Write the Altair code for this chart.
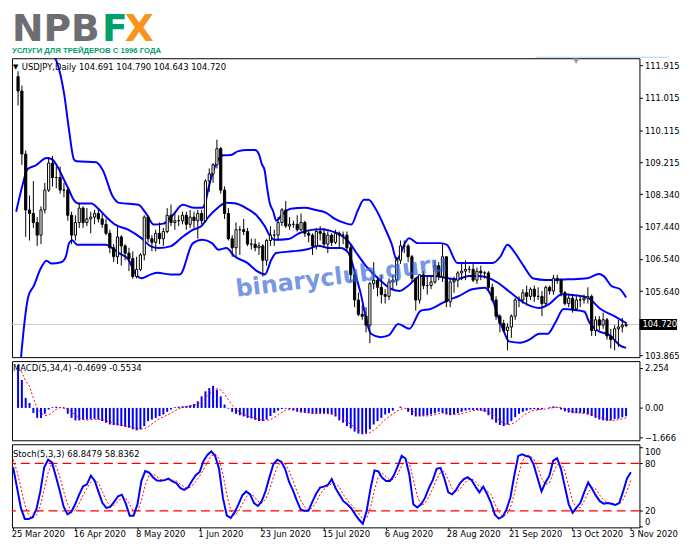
import altair as alt
import pandas as pd

# ---------------- data ----------------
opens = [111.60,111.20,109.45,107.90,107.80,107.55,107.20,107.90,108.45,109.20,
108.80,108.80,108.45,108.45,107.75,107.20,107.55,107.95,107.55,107.65,
107.70,107.80,107.65,107.50,107.25,106.85,106.60,107.15,106.90,106.70,
106.55,106.05,106.25,106.65,107.70,107.10,107.00,107.25,107.10,107.30,
107.75,107.55,107.60,107.60,107.75,107.50,107.70,107.60,107.80,107.60,
108.70,108.90,109.15,109.60,108.45,107.80,107.10,106.85,107.35,107.35,
107.30,106.95,106.95,106.85,106.90,106.50,107.05,107.20,107.20,107.55,
107.90,107.45,107.50,107.50,107.35,107.55,107.25,107.20,106.90,107.30,
107.25,106.95,107.20,107.00,107.25,107.20,107.20,106.85,106.10,105.40,
105.00,104.95,104.70,105.85,105.95,105.75,105.55,105.50,105.90,105.95,
106.50,106.90,106.90,106.60,106.00,105.40,106.10,105.80,105.80,105.90,
106.35,106.05,106.60,105.35,105.90,105.95,106.15,106.20,106.25,106.25,
105.95,106.20,106.15,106.15,105.75,105.40,104.95,104.75,104.55,104.65,
104.95,105.40,105.40,105.60,105.50,105.70,105.50,105.50,105.30,105.75,
105.65,106.00,105.95,105.60,105.30,105.45,105.15,105.40,105.40,105.45,
105.50,104.55,104.85,104.70,104.85,104.40,104.30,104.60,104.65,104.691]
highs = [111.75,111.35,109.55,108.30,108.70,107.70,108.00,108.65,109.35,109.40,
109.10,109.10,108.65,108.50,107.85,107.75,108.10,108.00,107.95,107.85,
107.90,107.95,107.80,107.65,107.35,106.95,107.45,107.20,106.95,106.85,
106.75,106.60,106.70,107.75,107.75,107.20,107.35,107.55,107.40,107.95,
108.05,107.85,107.75,107.85,107.85,107.90,107.85,107.90,107.90,108.75,
109.05,109.20,109.85,109.65,108.55,107.95,107.20,107.55,107.45,107.65,
107.40,107.10,107.10,107.00,106.95,107.10,107.45,107.35,107.70,107.95,
108.15,107.70,107.60,107.75,107.80,107.60,107.35,107.25,107.40,107.45,
107.40,107.30,107.25,107.35,107.30,107.30,107.30,106.95,106.25,105.60,
105.25,105.20,105.90,106.45,106.05,106.10,105.70,106.00,106.10,106.60,
107.05,107.05,106.95,106.65,106.00,106.10,106.20,106.05,106.05,106.50,
106.45,106.95,106.60,106.00,106.05,106.20,106.40,106.50,106.35,106.40,
106.30,106.35,106.20,106.20,105.85,105.50,105.00,104.85,104.75,105.00,
105.45,105.50,105.70,105.80,105.75,105.80,105.75,105.65,105.80,105.80,
106.10,106.10,106.00,105.65,105.55,105.55,105.50,105.50,105.55,105.75,
105.55,104.95,104.95,105.05,104.90,104.60,104.70,104.85,104.90,104.790]
lows = [110.80,109.15,107.15,107.05,107.40,106.90,106.95,107.80,108.40,108.55,
108.50,108.35,108.25,107.60,106.95,107.05,107.40,107.40,107.45,107.25,
107.50,107.55,107.40,107.20,106.70,106.45,106.40,106.35,106.50,106.20,
105.99,106.00,106.20,106.50,107.00,106.75,106.75,106.95,106.90,107.25,
107.45,107.35,107.45,107.50,107.35,107.40,107.40,107.10,107.50,107.55,
108.40,108.65,109.05,108.35,107.65,107.05,106.60,106.60,106.65,107.20,
106.90,106.80,106.75,106.65,106.05,106.35,106.90,106.90,107.05,107.45,
107.40,107.35,107.40,107.30,107.30,107.15,107.00,106.65,106.80,107.05,
106.85,106.70,106.90,106.95,106.85,106.95,106.75,105.90,105.20,104.95,
104.85,104.50,104.20,105.70,105.50,105.30,105.30,105.40,105.70,105.80,
106.40,106.70,106.45,105.90,105.10,105.30,105.70,105.55,105.70,105.85,
105.95,105.90,105.20,105.20,105.60,105.75,105.95,105.95,106.15,105.90,
105.85,105.95,106.00,105.65,105.35,104.85,104.50,104.50,104.00,104.35,
104.85,105.20,105.30,105.25,105.40,105.35,105.40,104.95,105.25,105.55,
105.55,105.85,105.50,105.25,105.20,105.05,105.10,105.20,105.30,105.30,
104.40,104.40,104.55,104.60,104.30,104.05,104.00,104.10,104.50,104.643]
closes = [111.20,109.45,107.90,107.80,107.55,107.20,107.90,108.45,109.20,108.80,
108.80,108.45,108.45,107.75,107.20,107.55,107.95,107.55,107.65,107.70,
107.80,107.65,107.50,107.25,106.85,106.60,107.15,106.90,106.70,106.55,
106.05,106.25,106.65,107.70,107.10,107.00,107.25,107.10,107.30,107.75,
107.55,107.60,107.60,107.75,107.50,107.70,107.60,107.80,107.60,108.70,
108.90,109.15,109.60,108.45,107.80,107.10,106.85,107.35,107.35,107.30,
106.95,106.95,106.85,106.90,106.50,107.05,107.20,107.20,107.55,107.90,
107.45,107.50,107.50,107.35,107.55,107.25,107.20,106.90,107.30,107.25,
106.95,107.20,107.00,107.25,107.20,107.20,106.85,106.10,105.40,105.00,
104.95,104.70,105.85,105.95,105.75,105.55,105.50,105.90,105.95,106.50,
106.90,106.90,106.60,106.00,105.40,106.10,105.80,105.80,105.90,106.35,
106.05,106.60,105.35,105.90,105.95,106.15,106.20,106.25,106.25,105.95,
106.20,106.15,106.15,105.75,105.40,104.95,104.75,104.55,104.65,104.95,
105.40,105.40,105.60,105.50,105.70,105.50,105.50,105.30,105.75,105.65,
106.00,105.95,105.60,105.30,105.45,105.15,105.40,105.40,105.45,105.50,
104.55,104.85,104.70,104.85,104.40,104.30,104.60,104.65,104.70,104.720]

# Bollinger band knots: bar position, price
ub_i = [7.5,8.82,10.08,12.09,13.35,14.61,15.37,20.40,22.17,24.69,26.45,31.49,33.50,35.52,38.04,40.55,43.07,46.10,48.11,48.87,49.87,51.13,52.39,53.65,55.67,57.43,59.95,61.96,62.97,63.73,64.48,64.99,65.74,66.75,67.51,69.02,71.28,75.06,77.58,80.60,82.62,85.89,87.15,88.92,90.43,91.69,93.45,95.97,97.73,98.99,100.0,101.0,102.27,104.53,110.33,112.09,114.86,124.18,126.2,127.96,129.97,132.24,134.76,138.04,143.83,148.87,151.89,153.15,155.16,157.43,159.0]
ub_p = [112.8,112.245,112.025,111.091,110.102,109.305,109.250,109.223,109.003,108.289,108.096,108.041,107.794,107.492,107.519,107.767,108.041,107.959,107.959,108.069,108.536,109.003,109.305,109.415,109.423,109.525,109.561,109.561,109.451,109.176,109.003,108.618,108.124,107.849,107.602,107.767,107.931,107.959,107.904,107.821,107.665,107.519,107.492,107.904,108.179,108.179,107.940,107.390,106.943,106.522,106.668,106.943,107.116,106.978,106.978,106.934,106.429,106.429,106.613,106.934,106.704,106.338,105.995,105.953,105.973,106.0,106.118,106.063,105.788,105.698,105.47]
mb_i = [-0.5,1.18,2.44,4.53,7.48,8.74,10.40,12.09,13.35,14.61,15.87,19.22,20.91,23.0,25.52,28.89,32.24,34.76,36.85,39.80,43.15,45.67,47.78,49.87,51.56,54.48,56.60,59.95,62.47,64.56,65.82,67.08,70.78,73.38,76.75,79.27,81.36,84.31,86.40,88.49,91.01,94.38,97.73,99.82,101.94,105.29,109.07,111.59,114.53,117.88,120.40,122.92,125.44,128.79,132.17,136.35,138.87,142.24,145.59,148.94,152.32,155.67,159.0]
mb_p = [107.849,108.591,109.031,109.132,109.341,109.313,109.085,108.720,108.445,108.171,108.077,108.077,107.940,107.712,107.484,107.346,107.116,106.887,106.841,106.887,107.162,107.346,107.437,107.712,107.896,108.096,108.083,107.931,107.739,107.437,107.190,107.071,107.094,107.245,107.346,107.363,107.327,107.209,107.025,106.704,106.338,105.973,105.698,105.651,105.788,106.063,106.063,106.017,105.973,106.063,106.063,106.017,105.879,105.605,105.330,105.176,105.286,105.560,105.533,105.467,105.148,104.964,104.76]
lb_i = [0.2,0.76,1.59,2.70,4.11,5.79,7.48,8.74,11.26,12.52,13.35,14.18,15.44,19.65,23.0,24.69,26.37,28.89,30.55,32.24,34.76,36.45,39.80,42.32,45.67,48.19,50.71,52.39,54.48,56.60,59.95,62.47,64.56,66.25,67.51,71.71,75.89,78.41,81.36,84.31,86.40,88.09,89.75,91.01,92.27,94.79,96.90,99.42,102.34,105.29,107.81,112.01,115.37,118.72,122.09,123.75,125.44,127.13,128.39,131.31,133.83,136.35,138.46,140.55,142.64,145.59,148.11,149.37,151.46,154.84,157.36,159.0]
lb_p = [103.0,103.775,104.690,105.500,105.789,106.247,106.489,106.412,106.448,106.613,106.978,107.058,106.934,106.934,106.934,106.833,106.704,106.522,106.154,106.003,106.110,106.154,106.110,106.110,106.970,107.072,106.978,106.797,106.841,106.613,106.429,106.201,106.110,106.522,106.704,106.750,106.813,106.907,106.841,106.841,106.704,106.154,105.514,104.874,104.462,104.368,104.415,104.736,104.599,105.102,105.148,105.377,105.514,105.698,105.742,105.514,104.964,104.506,104.250,104.215,104.305,104.462,104.462,104.780,105.148,105.121,105.074,104.780,104.552,104.415,104.140,104.07]

macd_hist = [2.41,1.57,0.56,0.28,-0.28,-0.56,-0.56,-0.33,-0.09,0.04,
0.07,0.04,-0.04,-0.33,-0.56,-0.70,-0.70,-0.67,-0.65,-0.63,
-0.61,-0.65,-0.74,-0.83,-0.93,-0.96,-0.98,-1.02,-1.06,-1.11,
-1.20,-1.26,-1.20,-1.02,-0.74,-0.65,-0.56,-0.46,-0.37,-0.22,
-0.09,0.04,0.07,0.09,0.11,0.15,0.22,0.37,0.65,0.93,
1.11,1.24,1.02,0.65,0.19,-0.04,-0.22,-0.33,-0.41,-0.48,
-0.56,-0.59,-0.67,-0.74,-0.74,-0.65,-0.46,-0.28,-0.15,-0.06,
-0.04,-0.07,-0.15,-0.22,-0.26,-0.28,-0.30,-0.33,-0.33,-0.30,
-0.30,-0.33,-0.37,-0.48,-0.70,-0.83,-1.02,-1.15,-1.33,-1.44,
-1.48,-1.44,-1.20,-0.93,-0.74,-0.56,-0.37,-0.28,-0.15,0.00,
0.07,0.00,-0.22,-0.41,-0.48,-0.48,-0.44,-0.41,-0.37,-0.30,
-0.22,-0.28,-0.37,-0.41,-0.37,-0.30,-0.22,-0.15,-0.11,-0.11,
-0.11,-0.15,-0.22,-0.41,-0.65,-0.83,-0.96,-1.02,-0.93,-0.74,
-0.52,-0.33,-0.22,-0.15,-0.09,-0.07,-0.11,-0.07,0.00,0.04,
0.09,0.04,-0.09,-0.19,-0.26,-0.30,-0.30,-0.28,-0.30,-0.37,
-0.46,-0.56,-0.65,-0.70,-0.72,-0.70,-0.62,-0.60,-0.52,-0.4699]
macd_signal = [2.20,2.00,1.50,1.20,0.55,0.00,-0.28,-0.43,-0.39,-0.24,
-0.08,0.02,0.03,-0.07,-0.22,-0.41,-0.57,-0.66,-0.68,-0.66,
-0.64,-0.64,-0.66,-0.71,-0.79,-0.87,-0.93,-0.97,-1.01,-1.04,
-1.10,-1.16,-1.19,-1.17,-1.06,-0.90,-0.74,-0.60,-0.51,-0.40,
-0.29,-0.16,-0.05,0.03,0.08,0.11,0.14,0.21,0.35,0.54,
0.77,0.98,1.08,1.01,0.78,0.46,0.15,-0.10,-0.25,-0.36,
-0.45,-0.51,-0.58,-0.64,-0.69,-0.70,-0.65,-0.53,-0.39,-0.24,
-0.13,-0.08,-0.08,-0.12,-0.18,-0.23,-0.27,-0.29,-0.31,-0.32,
-0.32,-0.32,-0.33,-0.37,-0.47,-0.60,-0.76,-0.93,-1.08,-1.24,
-1.35,-1.42,-1.39,-1.26,-1.08,-0.86,-0.65,-0.49,-0.34,-0.20,
-0.09,-0.02,-0.04,-0.14,-0.28,-0.40,-0.45,-0.45,-0.43,-0.38,
-0.33,-0.29,-0.29,-0.32,-0.36,-0.36,-0.33,-0.26,-0.20,-0.15,
-0.12,-0.12,-0.15,-0.22,-0.36,-0.53,-0.71,-0.87,-0.94,-0.91,
-0.80,-0.63,-0.45,-0.31,-0.20,-0.13,-0.11,-0.09,-0.06,-0.04,
0.02,0.04,0.02,-0.04,-0.13,-0.21,-0.26,-0.29,-0.30,-0.31,
-0.35,-0.42,-0.51,-0.59,-0.66,-0.70,-0.69,-0.66,-0.61,-0.5534]

stoch_main = [75,49.4,23.7,9.8,9.8,11.8,22,44.5,75.1,84.5,
81.2,63.7,45.3,25.3,15.5,18.8,28.6,40.4,51.0,53.5,
64.5,58,43.7,29.8,23.7,24.9,31.4,38.4,40.4,29.0,
13.9,13.9,28.2,57.6,70.2,68.2,62.4,58.4,58,58.8,
60.8,57.1,55.1,49,46.5,49.4,57.6,64.9,69.0,82.9,
90.6,95.1,89.4,73.1,36.3,13.9,11.0,18,28.2,39.6,
44.5,40.8,29.8,26.1,32.2,45.3,62.9,79.2,84.5,82,
73.1,56.7,46.1,33.1,21.6,20,20,31.4,41.6,49.4,
50.6,52.7,60,48.6,40.4,32.2,28.2,23.3,15.9,9,
3.7,20,48.6,71,69.8,61.6,57.6,57.6,64.9,76.3,
89.4,86.1,64.9,28.2,24.1,28.2,36.3,48.6,58.8,73.1,
74.3,60.8,43.3,40.8,46.5,54.7,60,62.4,58.8,50.6,
43.3,50.6,41.2,30.2,15.1,10.2,12.7,22,37.1,64.9,
89.4,91.4,89.4,87.8,78,60.8,44.5,55.9,64.1,83.3,
86.5,73.1,50.6,28.2,17.6,24.1,30.2,43.7,55.9,47.8,
39.2,32.2,29,29.8,29,27.3,29.8,44.5,60.8,68.8479]
stoch_signal = [85,70,49.4,27.6,14.4,10.5,14.5,26.1,47.2,68.0,
80.3,76.5,63.4,44.8,28.7,19.9,21.0,29.3,40.0,48.3,
56.3,58.7,55.4,43.8,32.4,26.1,26.7,31.6,36.7,35.9,
27.8,18.9,18.7,33.2,52.0,65.3,66.9,63.0,59.6,58.4,
59.2,58.9,57.7,53.7,50.2,48.3,51.2,57.3,63.8,72.3,
80.8,89.5,91.7,85.9,66.3,41.1,20.4,14.3,19.1,28.6,
37.4,41.6,38.4,32.2,29.4,34.5,46.8,62.5,75.5,81.9,
79.9,70.6,58.6,45.3,33.6,24.9,20.5,23.8,31.0,40.8,
47.2,50.9,54.4,53.8,49.7,40.4,33.6,27.9,22.5,16.1,
9.5,10.9,24.1,46.5,63.1,67.5,63.0,58.9,60.0,66.3,
76.9,83.9,80.1,59.7,39.1,26.8,29.5,37.7,47.9,60.2,
68.7,69.4,59.5,48.3,43.5,47.3,53.7,59.0,60.4,57.3,
50.9,48.2,45.0,40.7,28.8,18.5,12.7,15.0,23.9,41.3,
63.8,81.9,90.1,89.5,85.1,75.5,61.1,53.7,54.8,67.8,
78.0,81.0,70.1,50.6,32.1,23.3,24.0,32.7,43.3,49.1,
47.6,39.7,33.5,30.3,29.3,28.7,28.7,33.9,45.0,58.8362]

tick_bars = [0, 16, 32, 48, 64, 80, 96, 112, 128, 144, 159]
tick_labels = ["25 Mar 2020", "16 Apr 2020", "8 May 2020", "1 Jun 2020", "23 Jun 2020",
               "15 Jul 2020", "6 Aug 2020", "28 Aug 2020", "21 Sep 2020", "13 Oct 2020",
               "3 Nov 2020"]
main_ticks = [111.915, 111.015, 110.115, 109.215, 108.340, 107.440, 106.540, 105.640, 103.865]
macd_ticks = [2.254, 0.0, -1.666]
stoch_ticks = [100, 80, 20, 0]
stoch_levels = [20, 80]

symbol = "USDJPY,Daily"
brand = ["NPB", "F", "X"]
slogan = "УСЛУГИ ДЛЯ ТРЕЙДЕРОВ С 1996 ГОДА"
watermark = "binaryclub.guru"

# ---------------- chart ----------------
FONT = "DejaVu Sans"
W = 634
BLUE = "#0000ff"
RED = "#ff0000"

n = len(closes)
idx = list(range(n))
cd = pd.DataFrame({"i": idx, "o": opens, "h": highs, "l": lows, "c": closes})
cd["dir"] = ["up" if c >= o else "down" for o, c in zip(opens, closes)]

bb = pd.concat([
    pd.DataFrame({"i": ub_i, "p": ub_p, "band": "upper"}),
    pd.DataFrame({"i": mb_i, "p": mb_p, "band": "middle"}),
    pd.DataFrame({"i": lb_i, "p": lb_p, "band": "lower"}),
])

xs = alt.Scale(domain=[-0.3, 161.2], nice=False, zero=False)
X = alt.X("i:Q", scale=xs, axis=None)


def yaxis(values, **kw):
    return alt.Axis(orient="right", values=values, title=None, grid=False, domain=False,
                    tickSize=3, tickColor="black", labelColor="black", labelFont=FONT,
                    labelFontSize=8.5, labelPadding=2, labelOverlap=False, **kw)


ys_main = alt.Scale(domain=[103.813, 112.11], nice=False, zero=False)
ya_main = yaxis(main_ticks, format=".3f")

last = pd.DataFrame({"p": [closes[-1]], "t": [f"{closes[-1]:.3f}"]})
price_line = alt.Chart(last).mark_rule(color="#c8c8c8", strokeWidth=1).encode(
    y=alt.Y("p:Q", scale=ys_main, axis=ya_main))
bands = alt.Chart(bb).mark_line(color=BLUE, strokeWidth=2, clip=True, interpolate="monotone").encode(
    x=X, y=alt.Y("p:Q", scale=ys_main, axis=ya_main), detail="band:N", order="i:Q")
wicks = alt.Chart(cd).mark_rule(color="black", strokeWidth=1, clip=True).encode(
    x=X, y=alt.Y("l:Q", scale=ys_main, axis=ya_main), y2="h:Q")
bodies = alt.Chart(cd).mark_bar(size=2.2, stroke="black", strokeWidth=1, clip=True).encode(
    x=X, y=alt.Y("o:Q", scale=ys_main, axis=ya_main), y2="c:Q",
    fill=alt.Fill("dir:N", scale=alt.Scale(domain=["up", "down"], range=["white", "black"]), legend=None))

header = f"{symbol}  {opens[-1]:.3f} {highs[-1]:.3f} {lows[-1]:.3f} {closes[-1]:.3f}"
hdr = pd.DataFrame({"t": [header], "tri": ["▼"]})
header_tri = alt.Chart(hdr).mark_text(align="left", baseline="middle", font=FONT, fontSize=7,
                                      color="black").encode(x=alt.value(1), y=alt.value(9), text="tri:N")
header_txt = alt.Chart(hdr).mark_text(align="left", baseline="middle", font=FONT, fontSize=8.5,
                                      color="black").encode(x=alt.value(10), y=alt.value(9), text="t:N")

wm = alt.Chart(pd.DataFrame({"t": [watermark]})).mark_text(
    align="center", baseline="middle", font=FONT, fontSize=24, fontWeight="bold",
    color="#2f62d6", opacity=0.65, angle=353).encode(x=alt.value(333), y=alt.value(221), text="t:N")

logo_df = pd.DataFrame({"a": [brand[0]], "b": [brand[1]], "c": [brand[2]], "s": [slogan]})
logo1 = alt.Chart(logo_df).mark_text(align="left", baseline="alphabetic", font=FONT, fontSize=38,
                                     fontWeight="bold", color="#6d6e71").encode(
    x=alt.value(0), y=alt.value(-17), text="a:N")
logo2 = alt.Chart(logo_df).mark_text(align="left", baseline="alphabetic", font=FONT, fontSize=38,
                                     fontWeight="bold", color="#00a06b").encode(
    x=alt.value(91), y=alt.value(-17), text="b:N")
logo3 = alt.Chart(logo_df).mark_text(align="left", baseline="alphabetic", font=FONT, fontSize=38,
                                     fontWeight="bold", color="#f7941d").encode(
    x=alt.value(114), y=alt.value(-17), text="c:N")
logo4 = alt.Chart(logo_df).mark_text(align="left", baseline="alphabetic",
                                     font="Liberation Sans", fontSize=7.8, fontWeight="bold",
                                     color="#00a06b").encode(
    x=alt.value(0), y=alt.value(-5), text="s:N")

pbox = alt.Chart(last).mark_rule(color="black", strokeWidth=11).encode(
    y=alt.Y("p:Q", scale=ys_main, axis=ya_main), x=alt.value(W), x2=alt.value(W + 38))
ptxt = alt.Chart(last).mark_text(align="left", baseline="middle", font=FONT, fontSize=8.5,
                                 color="white").encode(
    y=alt.Y("p:Q", scale=ys_main, axis=ya_main), x=alt.value(W + 3), text="t:N")

marker = alt.Chart(hdr).mark_point(shape="triangle-down", filled=True, size=40, color="#a0a0a0",
                                   opacity=1).encode(x=alt.value(570), y=alt.value(3))
topline = alt.Chart(hdr).mark_rule(color="#a8d4f0", strokeWidth=1).encode(
    x=alt.value(529), x2=alt.value(664), y=alt.value(-1))

main = alt.layer(price_line, bands, wicks, bodies, header_tri, header_txt, wm,
                 logo1, logo2, logo3, logo4, pbox, ptxt, marker, topline).properties(width=W, height=302)

# MACD
md = pd.DataFrame({"i": idx, "h": macd_hist, "s": macd_signal})
ys_m = alt.Scale(domain=[-1.817, 2.628], nice=False, zero=False)
ya_m = yaxis(macd_ticks, labelExpr="datum.value == 0 ? '0.00' : format(datum.value, '.3f')")
mbars = alt.Chart(md).mark_bar(size=2, color=BLUE).encode(
    x=X, y=alt.Y("h:Q", scale=ys_m, axis=ya_m), y2=alt.datum(0))
msig = alt.Chart(md).mark_line(color=RED, strokeWidth=1, strokeDash=[2, 2]).encode(
    x=X, y=alt.Y("s:Q", scale=ys_m, axis=ya_m))
mtxt = alt.Chart(pd.DataFrame({"t": [f"MACD(5,34,4) {macd_hist[-1]:.4f} {macd_signal[-1]:.4f}"]})).mark_text(
    align="left", baseline="middle", font=FONT, fontSize=8.5, color="black").encode(
    x=alt.value(1), y=alt.value(7), text="t:N")
macd = alt.layer(mbars, msig, mtxt).properties(width=W, height=80)

# Stochastic
sd = pd.DataFrame({"i": idx, "m": stoch_main, "s": stoch_signal})
ys_s = alt.Scale(domain=[-0.9, 104.1], nice=False, zero=False)
ya_s = yaxis(stoch_ticks, format="d",
             labelBaseline={"condition": [{"test": "datum.value == 0", "value": "bottom"},
                                          {"test": "datum.value == 100", "value": "top"}],
                            "value": "middle"})
label_expr = "[" + ",".join(f"'{t}'" for t in tick_labels) + "][round(datum.value/16)]"
xa = alt.Axis(values=tick_bars, labelExpr=label_expr, title=None, grid=False, domain=False,
              tickSize=2, tickColor="black", labelColor="black", labelFont=FONT, labelFontSize=8.5,
              labelAlign="left", labelPadding=0, labelOverlap=False, labelFlush=False, labelOffset=-2)
XS = alt.X("i:Q", scale=xs, axis=xa)
lv = alt.Chart(pd.DataFrame({"v": stoch_levels})).mark_rule(color=RED, strokeWidth=1.2, strokeDash=[9, 5]).encode(
    y=alt.Y("v:Q", scale=ys_s, axis=ya_s))
ssig = alt.Chart(sd).mark_line(color=RED, strokeWidth=1, strokeDash=[2, 2]).encode(
    x=XS, y=alt.Y("s:Q", scale=ys_s, axis=ya_s))
smain = alt.Chart(sd).mark_line(color=BLUE, strokeWidth=2).encode(
    x=XS, y=alt.Y("m:Q", scale=ys_s, axis=ya_s))
stxt = alt.Chart(pd.DataFrame({"t": [f"Stoch(5,3,3) {stoch_main[-1]:.4f} {stoch_signal[-1]:.4f}"]})).mark_text(
    align="left", baseline="middle", font=FONT, fontSize=8.5, color="black").encode(
    x=alt.value(1), y=alt.value(10), text="t:N")
stoch = alt.layer(lv, ssig, smain, stxt).properties(width=W, height=84)

chart = alt.vconcat(main, macd, stoch, spacing=4, bounds="flush").properties(
    padding={"left": 0, "top": 0, "right": 0, "bottom": 0}, background="white"
).configure_view(stroke="black", strokeWidth=1)

chart.save("out.html", embed_options={"renderer": "svg", "actions": False})
